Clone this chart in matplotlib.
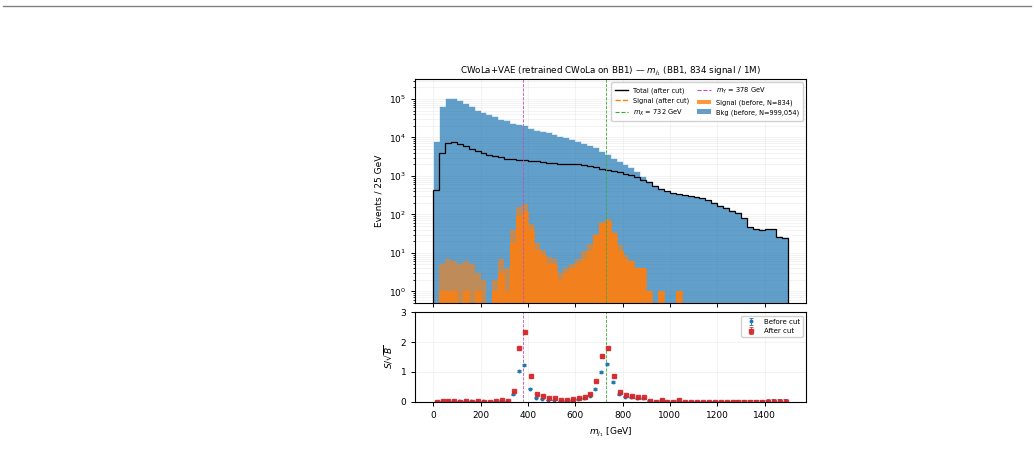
import numpy as np
import matplotlib
matplotlib.use("Agg")
import matplotlib.pyplot as plt
from matplotlib.lines import Line2D
from matplotlib.patches import Patch

# 25 GeV bins from 0 to 1500 GeV
bin_width = 25
n_bins = 60
m_x = 732
m_y = 378

bkg_before = [8000, 66000, 105000, 105000, 93000, 79000, 64000, 52000, 46000, 40000,
              35000, 31000, 28000, 24000, 23000, 20500, 18000, 16000, 15000, 14000,
              12000, 11000, 10000, 9000, 8000, 7200, 6300, 5500, 4400, 3700,
              3000, 2500, 2100, 1700, 1350, 1000, 720, 580, 490, 415,
              370, 340, 325, 310, 290, 268, 238, 206, 176, 155,
              129, 113, 83, 48, 43, 41, 42, 43, 27, 26]
total_after = [440, 4000, 7100, 7500, 6800, 5900, 5100, 4400, 3950, 3600,
               3300, 3050, 2800, 2700, 2600, 2550, 2450, 2400, 2300, 2200,
               2150, 2100, 2050, 2100, 2000, 1900, 1800, 1700, 1550, 1450,
               1350, 1250, 1150, 1050, 950, 800, 680, 560, 470, 400,
               360, 330, 315, 300, 280, 260, 230, 200, 170, 150,
               125, 110, 80, 46, 42, 40, 41, 42, 26, 25]
sig_before = [0, 5, 7, 6, 5, 6, 5, 3, 2, 0,
              2, 7, 4, 40, 155, 185, 58, 18, 12, 8,
              7, 3, 4, 5, 7, 11, 17, 31, 63, 76,
              34, 16, 9, 6, 4, 4, 1, 0, 1, 0,
              0, 1, 0, 0, 0, 0, 0, 0, 0, 0,
              0, 0, 0, 0, 0, 0, 0, 0, 0, 0]
sig_after = [0, 1, 1, 1, 0, 1, 0, 1, 0, 0,
             1, 3, 1, 18, 92, 118, 42, 12, 9, 5,
             5, 2, 3, 4, 5, 7, 11, 27, 56, 67,
             31, 11, 7, 6, 4, 4, 1, 0, 1, 0,
             0, 1, 0, 0, 0, 0, 0, 0, 0, 0,
             0, 0, 0, 0, 0, 0, 0, 0, 0, 0]

# S/sqrt(B) per bin
sb_before = [0.00, 0.02, 0.02, 0.02, 0.02, 0.02, 0.02, 0.01, 0.01, 0.00,
             0.01, 0.04, 0.02, 0.25, 1.02, 1.23, 0.43, 0.14, 0.10, 0.06,
             0.06, 0.03, 0.04, 0.05, 0.08, 0.12, 0.20, 0.43, 1.00, 1.27,
             0.65, 0.25, 0.17, 0.15, 0.12, 0.12, 0.04, 0.00, 0.05, 0.00,
             0.00, 0.05, 0.00, 0.00, 0.00, 0.00, 0.00, 0.00, 0.00, 0.00,
             0.00, 0.00, 0.00, 0.00, 0.00, 0.00, 0.00, 0.00, 0.00, 0.00]
sb_after = [0.00, 0.02, 0.01, 0.01, 0.00, 0.01, 0.00, 0.02, 0.00, 0.00,
            0.02, 0.05, 0.02, 0.35, 1.80, 2.33, 0.85, 0.25, 0.20, 0.12,
            0.12, 0.05, 0.07, 0.09, 0.11, 0.15, 0.27, 0.68, 1.52, 1.80,
            0.87, 0.32, 0.21, 0.19, 0.15, 0.15, 0.04, 0.00, 0.05, 0.00,
            0.00, 0.06, 0.00, 0.00, 0.00, 0.00, 0.00, 0.00, 0.00, 0.00,
            0.00, 0.00, 0.00, 0.00, 0.00, 0.00, 0.00, 0.00, 0.00, 0.00]
sb_before_err = [0.00, 0.005, 0.005, 0.005, 0.005, 0.005, 0.005, 0.005, 0.005, 0.00,
                 0.005, 0.01, 0.01, 0.02, 0.03, 0.03, 0.02, 0.02, 0.02, 0.01,
                 0.01, 0.01, 0.01, 0.01, 0.01, 0.02, 0.02, 0.03, 0.04, 0.04,
                 0.03, 0.02, 0.02, 0.02, 0.02, 0.02, 0.02, 0.00, 0.02, 0.00,
                 0.00, 0.02, 0.010, 0.012, 0.015, 0.018, 0.021, 0.025, 0.030, 0.035,
                 0.040, 0.045, 0.052, 0.065, 0.070, 0.072, 0.074, 0.076, 0.090, 0.095]
sb_after_err = [0.00, 0.005, 0.005, 0.005, 0.00, 0.005, 0.00, 0.005, 0.00, 0.00,
                0.005, 0.01, 0.01, 0.02, 0.04, 0.04, 0.03, 0.02, 0.02, 0.01,
                0.01, 0.01, 0.01, 0.01, 0.01, 0.02, 0.02, 0.03, 0.05, 0.05,
                0.03, 0.02, 0.02, 0.02, 0.02, 0.02, 0.02, 0.00, 0.02, 0.00,
                0.00, 0.02, 0.010, 0.013, 0.016, 0.019, 0.022, 0.026, 0.031, 0.036,
                0.041, 0.046, 0.054, 0.067, 0.072, 0.074, 0.076, 0.078, 0.093, 0.098]

edges = np.arange(n_bins + 1) * bin_width
centers = edges[:-1] + bin_width / 2

plt.rcParams["font.family"] = ["DejaVu Sans"]
plt.rcParams["font.size"] = 6.5
plt.rcParams["axes.linewidth"] = 0.8
plt.rcParams["axes.axisbelow"] = True
plt.rcParams["xtick.major.width"] = 0.7
plt.rcParams["ytick.major.width"] = 0.7
plt.rcParams["xtick.major.size"] = 3
plt.rcParams["ytick.major.size"] = 3
plt.rcParams["ytick.minor.size"] = 1.8

fig = plt.figure(figsize=(10.34, 4.59), dpi=100)
ax1 = fig.add_axes([0.4018, 0.3399, 0.3777, 0.488])
ax2 = fig.add_axes([0.4018, 0.1248, 0.3777, 0.1948], sharex=ax1)

# top panel
ax1.hist(centers, bins=edges, weights=bkg_before, histtype="stepfilled",
         color="C0", alpha=0.7, edgecolor="white", linewidth=0.6)
ax1.hist(centers, bins=edges, weights=sig_before, histtype="stepfilled",
         color="C1", alpha=0.6)
ax1.hist(centers, bins=edges, weights=sig_after, histtype="stepfilled",
         color="C1", alpha=0.8)
ax1.hist(centers, bins=edges, weights=sig_after, histtype="step",
         color="C1", linestyle="--", linewidth=0.7)
ax1.hist(centers, bins=edges, weights=total_after, histtype="step",
         color="black", linewidth=0.9)
for ax in (ax1, ax2):
    ax.axvline(m_y, color="#c04ec0", linestyle="--", linewidth=0.6)
    ax.axvline(m_x, color="#3aaa3a", linestyle="--", linewidth=0.6)

ax1.set_yscale("log")
ax1.set_ylim(0.5, 3.3e5)
ax1.set_ylabel("Events / 25 GeV", fontsize=6.5)
ax1.set_title(r"CWoLa+VAE (retrained CWoLa on BB1) — $m_{j_1}$ (BB1, 834 signal / 1M)",
              fontsize=6.3, pad=4)
ax1.grid(True, which="both", color="#dddddd", linewidth=0.4, alpha=0.6)
ax1.tick_params(labelbottom=False, labelsize=6.5)

handles = [
    Line2D([], [], color="black", lw=1.0, label="Total (after cut)"),
    Line2D([], [], color="C1", lw=1.0, ls="--", label="Signal (after cut)"),
    Line2D([], [], color="#3aaa3a", lw=0.8, ls="--", label=r"$m_X$ = 732 GeV"),
    Line2D([], [], color="#c04ec0", lw=0.8, ls="--", label=r"$m_Y$ = 378 GeV"),
    Patch(facecolor="C1", alpha=0.8, label="Signal (before, N=834)"),
    Patch(facecolor="C0", alpha=0.7, label="Bkg (before, N=999,054)"),
]
ax1.legend(handles=handles, ncol=2, loc="upper right", fontsize=4.8,
           framealpha=0.9, handlelength=2.0, columnspacing=1.2,
           labelspacing=0.5, borderpad=0.5)

# ratio panel
ax2.errorbar(centers - 2, sb_before, yerr=sb_before_err, fmt="o", color="C0",
             markersize=1.8, elinewidth=0.6, capsize=1.2, capthick=0.6,
             label="Before cut")
ax2.errorbar(centers + 2, sb_after, yerr=sb_after_err, fmt="s", color="#d62728",
             markersize=2.2, elinewidth=0.6, capsize=1.2, capthick=0.6,
             alpha=0.9, label="After cut")
ax2.set_ylim(0, 3)
ax2.set_yticks([0, 1, 2, 3])
ax2.set_xticks(range(0, 1401, 200))
ax2.set_ylabel(r"$S/\sqrt{B}$", fontsize=6.5)
ax2.set_xlabel(r"$m_{j_1}$ [GeV]", fontsize=6.5)
ax2.grid(True, color="#dddddd", linewidth=0.4, alpha=0.6)
ax2.tick_params(labelsize=6.5)
ax2.legend(loc="upper right", fontsize=5, framealpha=0.9)

# separator line of the page
fig.add_artist(Line2D([0.003, 0.997], [1 - 6 / 459, 1 - 6 / 459],
                      color="gray", linewidth=1.0))

fig.savefig("out.png", dpi=100)
